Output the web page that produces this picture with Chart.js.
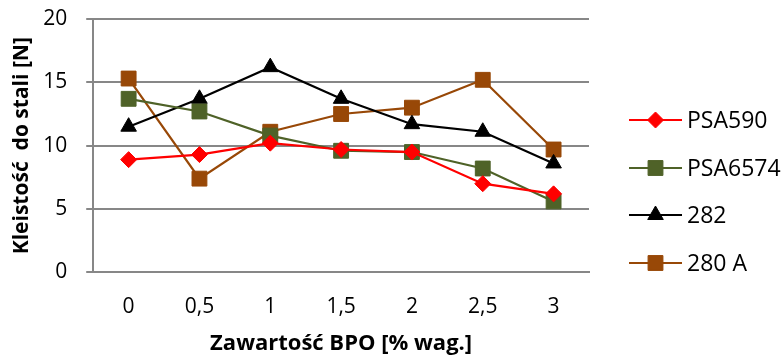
<!DOCTYPE html>
<html>
<head>
<meta charset="utf-8">
<script src="https://cdn.jsdelivr.net/npm/chart.js@4.4.1/dist/chart.umd.min.js"></script>
<style>
  html, body { margin: 0; padding: 0; background: #ffffff; }
  #wrap { width: 783px; height: 359px; position: relative; }
</style>
</head>
<body>
<div id="wrap"><canvas id="chart" width="783" height="359"></canvas></div>
<script>
// BPO content [% wt.] and adhesion to steel [N] for each adhesive
const categories = ['0', '0,5', '1', '1,5', '2', '2,5', '3'];
const psa590  = [8.9, 9.3, 10.2, 9.7, 9.5, 7.0, 6.2];
const psa6574 = [13.7, 12.7, 10.8, 9.6, 9.5, 8.2, 5.6];
const s282    = [11.5, 13.7, 16.2, 13.7, 11.7, 11.1, 8.6];
const s280A   = [15.3, 7.4, 11.1, 12.5, 13.0, 15.2, 9.7];
const yTicks  = [0, 5, 10, 15, 20];

const FONT = '"Open Sans", "Liberation Sans", sans-serif';

function series(label, data, color, pointStyle, radius) {
  return {
    label, data,
    borderColor: color,
    backgroundColor: color,
    pointBackgroundColor: color,
    pointBorderColor: color,
    borderWidth: 2.2,
    pointStyle,
    pointRadius: radius,
    pointHoverRadius: radius,
    pointBorderWidth: 1,
    tension: 0
  };
}

// Legend on the right: a short line with the series marker on top of it
const sideLegend = {
  id: 'sideLegend',
  afterDraw(chart) {
    const ctx = chart.ctx;
    const rows = [120, 168, 215, 263];
    const x0 = 629, x1 = 682;
    chart.data.datasets.forEach((ds, i) => {
      const y = rows[i];
      ctx.save();
      ctx.strokeStyle = ds.borderColor;
      ctx.lineWidth = 2.2;
      ctx.beginPath();
      ctx.moveTo(x0, y);
      ctx.lineTo(x1, y);
      ctx.stroke();
      ctx.fillStyle = ds.backgroundColor;
      ctx.strokeStyle = ds.borderColor;
      ctx.lineWidth = 1;
      Chart.helpers.drawPoint(ctx, {
        pointStyle: ds.pointStyle, radius: ds.pointRadius, rotation: 0, borderWidth: 1
      }, (x0 + x1) / 2, y);
      ctx.fillStyle = '#000000';
      ctx.font = '23px ' + FONT;
      ctx.textBaseline = 'middle';
      ctx.textAlign = 'left';
      ctx.fillText(ds.label, 687, y + 1);
      ctx.restore();
    });
  }
};

new Chart(document.getElementById('chart'), {
  type: 'line',
  data: {
    labels: categories,
    datasets: [
      series('PSA590', psa590, '#FF0000', 'rectRot', 8),
      series('PSA6574', psa6574, '#4F6228', 'rect', 10.5),
      series('282', s282, '#000000', 'triangle', 9),
      series('280 A', s280A, '#984807', 'rect', 10.5)
    ]
  },
  options: {
    responsive: false,
    animation: false,
    layout: { autoPadding: false, padding: { left: 9, right: 194, top: 19, bottom: 2 } },
    plugins: {
      legend: { display: false },
      tooltip: { enabled: false }
    },
    scales: {
      x: {
        offset: true,
        grid: { display: false, drawTicks: false },
        border: { display: true, color: '#878787', width: 2 },
        ticks: { color: '#000000', font: { family: FONT, size: 21 }, padding: 22 },
        title: {
          display: true,
          text: 'Zawartość BPO [% wag.]',
          color: '#000000',
          font: { family: FONT, size: 22, weight: 'bold' },
          padding: { top: -11, bottom: 0 }
        }
      },
      y: {
        min: 0, max: 20,
        afterBuildTicks(axis) { axis.ticks = yTicks.map(v => ({ value: v })); },
        // keep the wide label gap from growing the axis vertically
        afterFit(axis) { axis.paddingTop = 0; axis.paddingBottom = 0; },
        grid: { color: '#878787', lineWidth: 2, tickLength: 7, drawTicks: true },
        border: { display: true, color: '#878787', width: 2 },
        ticks: { color: '#000000', font: { family: FONT, size: 21 }, padding: 19 },
        title: {
          display: true,
          text: 'Kleistość  do stali [N]',
          color: '#000000',
          font: { family: FONT, size: 21, weight: 'bold' },
          padding: { top: 0, bottom: -10 }
        }
      }
    }
  },
  plugins: [sideLegend]
});
</script>
</body>
</html>
